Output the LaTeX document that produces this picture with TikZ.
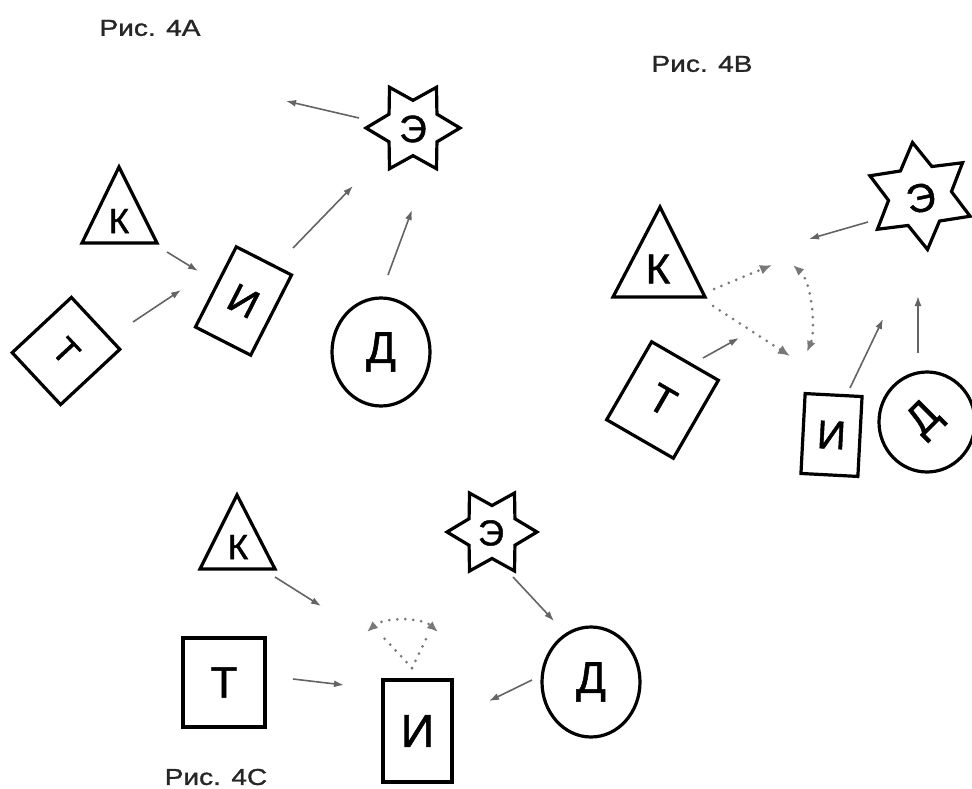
\documentclass[tikz,border=0pt]{standalone}
\usepackage{fontspec}
\usepackage{graphicx}
\setmainfont[FakeBold=1.2]{Liberation Sans}
\usetikzlibrary{arrows.meta,shapes.geometric,calc}
\definecolor{arrgray}{RGB}{100,100,100}
\definecolor{dotgray}{RGB}{120,120,120}
\newcommand{\fsz}[1]{\fontsize{#1}{#1}\selectfont}
\begin{document}
\begin{tikzpicture}[x=1pt,y=-1pt,
  shp/.style={draw=black,line width=3.2pt,inner sep=0pt,line join=miter},
  box/.style={shp,rectangle},
  ring/.style={shp,ellipse},
  hexstar/.style={shp,star,star points=6,star point ratio=1.7},
  tri/.style={draw=black,line width=3.2pt,line join=miter},
  letter/.style={inner sep=0pt},
  figcap/.style={inner sep=0pt,text=black!85},
  arr/.style={draw=arrgray,line width=1.6pt,-{Latex[length=10pt,width=7pt]}},
  dotarr/.style={draw=dotgray,line width=3pt,line cap=round,dash pattern=on 0pt off 8pt},
  onehead/.style={-{Latex[length=12pt,width=10pt]}},
  twoheads/.style={{Latex[length=11pt,width=9pt]}-{Latex[length=11pt,width=9pt]}}]
\useasboundingbox (0,0) rectangle (972,789);

% ================= Fig 4A =================
\node[figcap] (capA) at (150,28) {\scalebox{1.22}[1]{\fsz{23}Рис. 4A}};
\node[hexstar,minimum size=94pt,shape border rotate=30] (Ea) at (413,128) {};
\node[letter] (EaT) at (413,129) {\fsz{38}Э};
\coordinate (Ka1) at (119,167);
\coordinate (Ka2) at (157,243);
\coordinate (Ka3) at (82,243);
\draw[tri] (Ka1) -- (Ka2) -- (Ka3) -- cycle;
\node[letter] (KaT) at (119,221) {\fsz{35}К};
\node[box,minimum width=62pt,minimum height=90pt,rotate=-27] (Ia) at (243.5,301) {\fsz{40}И};
\node[box,minimum width=71pt,minimum height=81pt,rotate=-47] (Ta) at (66,351) {\fsz{35}Т};
\node[ring,minimum width=98pt,minimum height=108pt] (Da) at (381,352) {\fsz{44}Д};
\coordinate (a1s) at (359,118); \coordinate (a1e) at (286,101);
\coordinate (a2s) at (167,252); \coordinate (a2e) at (198,271);
\coordinate (a3s) at (133,322); \coordinate (a3e) at (181,290);
\coordinate (a4s) at (293,248); \coordinate (a4e) at (353,186);
\coordinate (a5s) at (388,275); \coordinate (a5e) at (412,210);
\draw[arr] (a1s) -- (a1e);
\draw[arr] (a2s) -- (a2e);
\draw[arr] (a3s) -- (a3e);
\draw[arr] (a4s) -- (a4e);
\draw[arr] (a5s) -- (a5e);

% ================= Fig 4B =================
\node[figcap] (capB) at (702,64) {\scalebox{1.22}[1]{\fsz{23}Рис. 4B}};
\node[hexstar,minimum size=108pt,rotate=8] (Eb) at (920,196) {};
\node[letter,rotate=12] (EbT) at (921,198) {\fsz{40}Э};
\coordinate (Kb1) at (660,207);
\coordinate (Kb2) at (705,297);
\coordinate (Kb3) at (613,297);
\draw[tri] (Kb1) -- (Kb2) -- (Kb3) -- cycle;
\node[letter] (KbT) at (658,269) {\fsz{42}К};
\node[box,minimum width=77pt,minimum height=90pt,rotate=-30] (Tb) at (662.5,400) {\fsz{40}Т};
\node[box,minimum width=57pt,minimum height=80pt,rotate=-3] (Ib) at (831.5,435) {\fsz{40}И};
\node[ring,minimum width=96pt,minimum height=100pt] (Db) at (927,422) {};
\node[letter,rotate=45] (DbT) at (925,420) {\fsz{42}Д};
\coordinate (b1s) at (868,222); \coordinate (b1e) at (809,239);
\coordinate (b2s) at (703,358); \coordinate (b2e) at (739,338);
\coordinate (b3s) at (850,388); \coordinate (b3e) at (883,319);
\coordinate (b4s) at (918,353); \coordinate (b4e) at (918,296);
\draw[arr] (b1s) -- (b1e);
\draw[arr] (b2s) -- (b2e);
\draw[arr] (b3s) -- (b3e);
\draw[arr] (b4s) -- (b4e);
\coordinate (bd1s) at (714,289); \coordinate (bd1e) at (772,265);
\coordinate (bd2s) at (713,306); \coordinate (bd2e) at (790,356);
\coordinate (bd3s) at (793,265); \coordinate (bd3e) at (807,352);
\draw[dotarr,onehead] (bd1s) -- (bd1e);
\draw[dotarr,onehead] (bd2s) -- (bd2e);
\draw[dotarr,twoheads] (bd3s) .. controls (812,282) and (816,330) .. (bd3e);

% ================= Fig 4C =================
\node[figcap] (capC) at (216,777) {\scalebox{1.22}[1]{\fsz{23}Рис. 4C}};
\coordinate (Kc1) at (237,495);
\coordinate (Kc2) at (275,569);
\coordinate (Kc3) at (200,569);
\draw[tri] (Kc1) -- (Kc2) -- (Kc3) -- cycle;
\node[letter] (KcT) at (238,547) {\fsz{35}К};
\node[hexstar,minimum size=90pt,shape border rotate=30] (Ec) at (492,532) {};
\node[letter] (EcT) at (491,533) {\fsz{36}Э};
\node[ring,minimum width=98pt,minimum height=110pt] (Dc) at (591,682) {\fsz{44}Д};
\node[box,minimum width=82pt,minimum height=89pt] (Tc) at (224,682.5) {\fsz{44}Т};
\node[box,minimum width=69pt,minimum height=102pt] (Ic) at (417.5,731) {\fsz{46}И};
\coordinate (c1s) at (275,577); \coordinate (c1e) at (321,606);
\coordinate (c2s) at (513,577); \coordinate (c2e) at (554,621);
\coordinate (c3s) at (532,680); \coordinate (c3e) at (489,701);
\coordinate (c4s) at (293,679); \coordinate (c4e) at (344,685);
\draw[arr] (c1s) -- (c1e);
\draw[arr] (c2s) -- (c2e);
\draw[arr] (c3s) -- (c3e);
\draw[arr] (c4s) -- (c4e);
\coordinate (cap0) at (412,668);
\coordinate (cl) at (383,637);
\coordinate (cr) at (427,637);
\coordinate (cal) at (367,632);
\coordinate (car) at (438,632);
\draw[dotarr] (cap0) -- (cl);
\draw[dotarr] (cap0) -- (cr);
\draw[dotarr,twoheads] (cal) .. controls (384,617) and (421,617) .. (car);
\end{tikzpicture}
\end{document}
